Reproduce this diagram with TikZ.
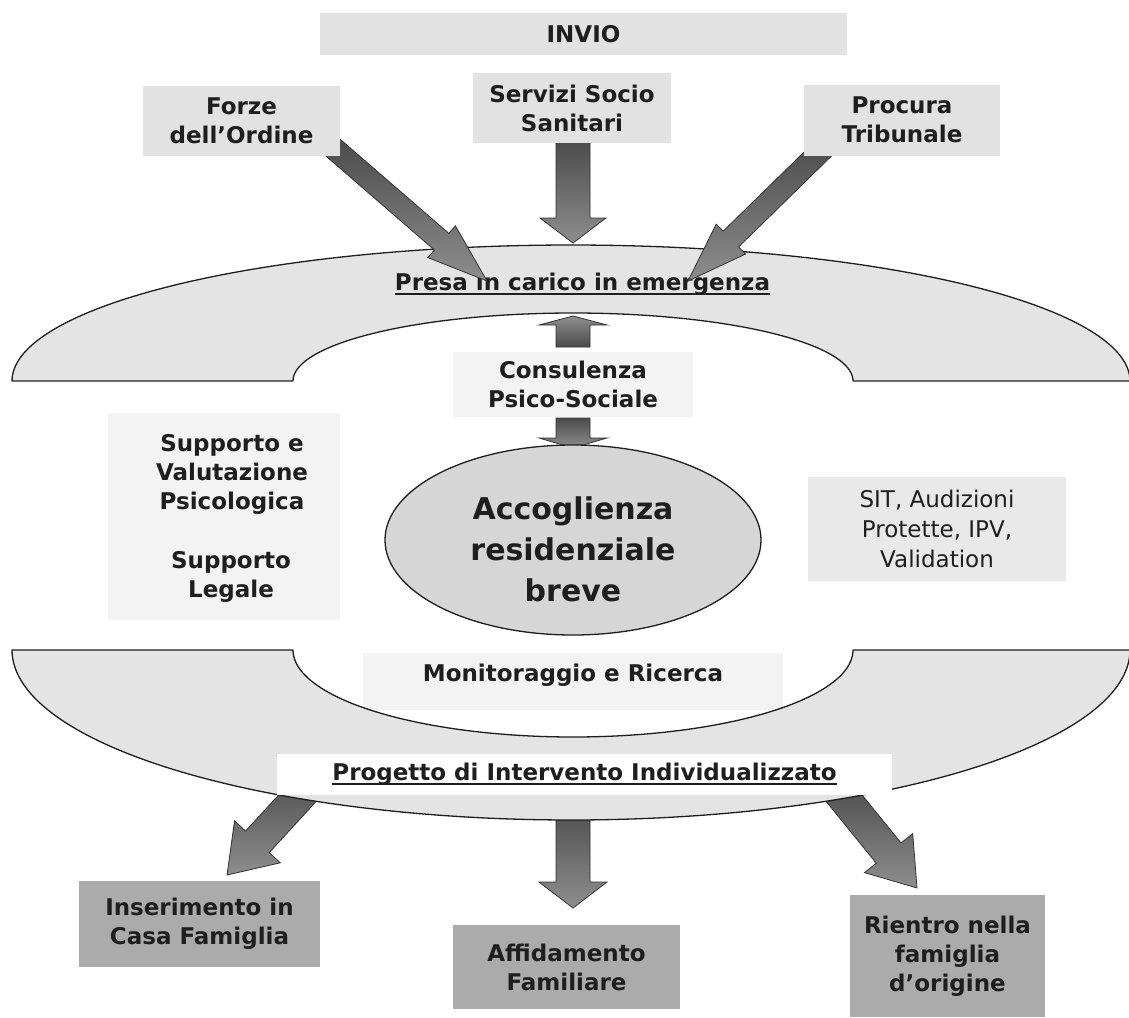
\documentclass[tikz,border=0pt]{standalone}
\usepackage{fontspec}
\setmainfont{DejaVu Sans}
\usetikzlibrary{calc,shapes.geometric}
\definecolor{textc}{HTML}{1E1E1E}
\definecolor{archfill}{HTML}{E4E4E4}
\definecolor{topbox}{HTML}{E2E2E2}
\definecolor{faintbox}{HTML}{F3F3F3}
\definecolor{sitbox}{HTML}{E9E9E9}
\definecolor{botbox}{HTML}{ABABAB}
\definecolor{ellfill}{HTML}{D6D6D6}
\definecolor{arrdark}{HTML}{4A4A4A}
\definecolor{arrlight}{HTML}{8E8E8E}
\definecolor{arredge}{HTML}{333333}
\definecolor{edgec}{HTML}{1E1E1E}
\newcommand{\myul}[1]{\setbox0\hbox{#1}\rlap{\vrule height -2.5pt depth 4.5pt width \wd0}\box0}
\newcommand{\blockarrow}[6]{% style, from, to, half shaft, half head, head length
  \coordinate (ba-c) at ($(#3)!#6!(#2)$);
  \draw[#1] ($(#2)!#4!90:(#3)$) -- ($(ba-c)!#4!90:(#3)$) -- ($(ba-c)!#5!90:(#3)$) -- (#3)
     -- ($(ba-c)!#5!-90:(#3)$) -- ($(ba-c)!#4!-90:(#3)$) -- ($(#2)!#4!-90:(#3)$) -- cycle;
}
\begin{document}
\begin{tikzpicture}[x=1pt,y=-1pt,
  txt/.style={font=\bfseries\fontsize{23}{29}\selectfont, text=textc, align=center, inner sep=0pt},
  topbx/.style={txt, fill=topbox},
  botbx/.style={txt, fill=botbox},
  fntbx/.style={fill=faintbox, inner sep=0pt},
  arrowsh/.style={draw=arredge, line width=0.8pt, top color=arrdark, bottom color=arrlight, line join=miter},
  arrowup/.style={draw=arredge, line width=0.8pt, top color=arrlight, bottom color=arrdark, line join=miter},
  archst/.style={draw=edgec, line width=1.3pt, fill=archfill, line join=round},
]
\useasboundingbox (0,0) rectangle (1129,1017);
\fill[white] (0,0) rectangle (1129,1017);

% faint backgrounds
\node[fntbx, minimum width=232, minimum height=207] (supbg) at (224,516.5) {};
\node[fntbx, minimum width=420, minimum height=57] (monbg) at (573,681.5) {};
\node[txt, fill=faintbox, minimum width=240, minimum height=65] (consulenza) at (573,384) {Consulenza\\Psico-Sociale};
\node[txt, font=\mdseries\fontsize{23}{30}\selectfont, fill=sitbox, minimum width=258, minimum height=104] (sit) at (937,529) {SIT, Audizioni\\Protette, IPV,\\Validation};

% arrow end points
\coordinate (fo-t) at (330,145);  \coordinate (fo-h) at (487,281);
\coordinate (ss-t) at (573,138);  \coordinate (ss-h) at (573,243);
\coordinate (pr-t) at (827,145);  \coordinate (pr-h) at (688,281);
\coordinate (up-t) at (573,347);  \coordinate (up-h) at (573,316);
\coordinate (dn-t) at (573,418);  \coordinate (dn-h) at (573,448);
\coordinate (bl-t) at (315,779);  \coordinate (bl-h) at (227,875);
\coordinate (bc-t) at (573,800);  \coordinate (bc-h) at (573,908);
\coordinate (br-t) at (835,787);  \coordinate (br-h) at (917,888);

% bottom arrows (under the lower arch)
\blockarrow{arrowsh}{bl-t}{bl-h}{16pt}{31pt}{45pt}
\blockarrow{arrowsh}{bc-t}{bc-h}{17pt}{34pt}{26pt}
\blockarrow{arrowsh}{br-t}{br-h}{16pt}{31pt}{45pt}

% lower arch
\draw[archst] plot[domain=180:0, samples=150] ({571+559*cos(\x)},{650+170*sin(\x)})
  -- plot[domain=0:180, samples=100] ({573+280*cos(\x)},{650+87*sin(\x)}) -- cycle;
\node[txt, fill=white, minimum width=615, minimum height=41] (progetto) at (584.5,774) {\myul{Progetto di Intervento Individualizzato}};

% upper arch
\draw[archst] plot[domain=180:360, samples=150] ({571+559*cos(\x)},{381+136*sin(\x)})
  -- plot[domain=360:180, samples=100] ({573+280*cos(\x)},{381+68*sin(\x)}) -- cycle;
\node[txt] (presa) at (582.5,284) {\myul{Presa in carico in emergenza}};

% top arrows
\blockarrow{arrowsh}{fo-t}{fo-h}{11pt}{21pt}{60pt}
\blockarrow{arrowsh}{ss-t}{ss-h}{17pt}{33pt}{25pt}
\blockarrow{arrowsh}{pr-t}{pr-h}{11pt}{21pt}{60pt}
\blockarrow{arrowup}{up-t}{up-h}{17pt}{34pt}{9pt}
\blockarrow{arrowsh}{dn-t}{dn-h}{17pt}{34pt}{10pt}

% central ellipse
\node[ellipse, draw=edgec, line width=1.3pt, fill=ellfill, minimum width=376, minimum height=190, inner sep=0pt] (accog) at (573,540) {};
\node[txt, font=\bfseries\fontsize{30}{41}\selectfont] (accogtxt) at (573,549) {Accoglienza\\residenziale\\breve};

% top boxes
\node[topbx, minimum width=527, minimum height=42] (invio) at (583.5,34) {INVIO};
\node[topbx, minimum width=197, minimum height=70] (forze) at (241.5,121) {Forze\\dell’Ordine};
\node[topbx, minimum width=198, minimum height=70] (servizi) at (572,108) {Servizi Socio\\Sanitari};
\node[topbx, minimum width=196, minimum height=71] (procura) at (902,120) {Procura\\Tribunale};

% side texts
\node[txt] (supval) at (232,474) {Supporto e\\Valutazione\\Psicologica};
\node[txt] (supleg) at (231,577) {Supporto\\Legale};
\node[txt] (monit) at (573,675) {Monitoraggio e Ricerca};

% bottom boxes
\node[botbx, minimum width=241, minimum height=86] (inser) at (199.5,924) {Inserimento in\\Casa Famiglia};
\node[botbx, minimum width=227, minimum height=84] (affid) at (566.5,967) {Affidamento\\Familiare};
\node[botbx, minimum width=195, minimum height=122] (rientro) at (947.5,956) {Rientro nella\\famiglia\\d’origine};
\end{tikzpicture}
\end{document}
